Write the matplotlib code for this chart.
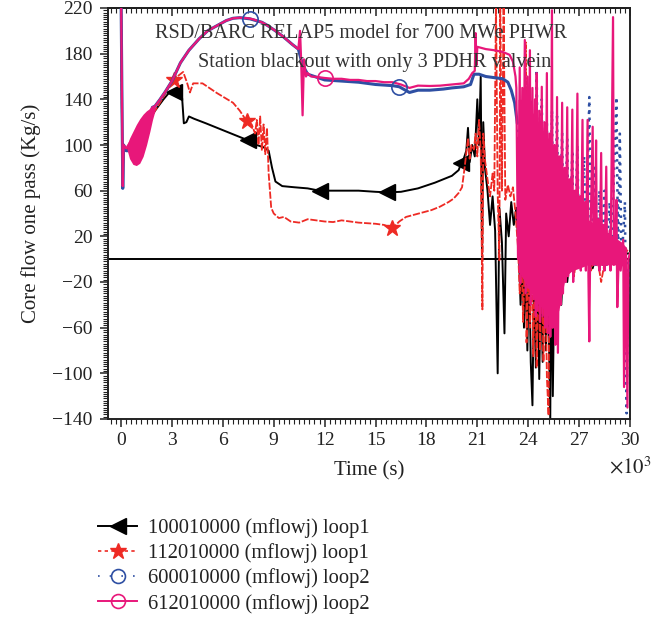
import numpy as np
import matplotlib
matplotlib.use("Agg")
import matplotlib.pyplot as plt
from matplotlib.lines import Line2D
from matplotlib.ticker import MultipleLocator

plt.rcParams['font.family'] = ['Liberation Serif', 'DejaVu Serif']
plt.rcParams['mathtext.fontset'] = 'stix'

# ---------------- data (time in 10^3 s, flow in kg/s) ----------------
t_black = [0.0, 0.08, 0.15, 0.3, 0.6, 1.0, 1.5, 2.0, 2.5, 2.9, 3.1, 3.3, 3.6, 3.7, 3.85, 4.0, 4.3, 5.0, 6.0, 7.0,
           7.5, 8.0, 8.4, 8.7, 8.9, 9.1, 9.5, 10.2, 11.0, 11.7, 12.5, 14.0, 15.0, 15.7, 16.5, 17.5, 18.5, 19.5, 19.9, 20.05,
           20.2, 20.35, 20.45, 20.55, 20.7, 20.85, 21.0, 21.1, 21.2, 21.28, 21.35, 21.45, 21.6, 21.75, 21.9, 22.05, 22.2, 22.3, 22.45, 22.6,
           22.7, 22.85, 23.0, 23.15, 23.3, 23.45, 23.55, 23.65, 23.75, 23.85, 23.95, 24.05, 24.15, 24.25, 24.35, 24.45, 24.55, 24.65, 24.75, 24.85,
           24.95, 25.05, 25.15, 25.3, 25.35, 25.45, 25.55, 25.65, 25.8, 25.95, 26.1, 26.3, 26.5, 26.7, 26.9, 27.2, 27.5, 27.8, 28.1, 28.4,
           28.7, 29.0, 29.3, 29.6, 29.8, 30.0]
y_black = [225, 63, 100, 95, 100, 105, 118, 130, 140, 147, 146, 143, 141, 119, 120, 125, 123, 119, 113, 107,
           104, 100, 98, 95, 80, 68, 64, 63, 62, 60, 60, 60, 59, 58.5, 59, 62, 67, 73, 78, 84,
           88, 95, 115, 85, 100, 90, 140, 100, 160, 2, 120, 80, 60, 30, 55, 25, -100, 45, 15, -65,
           40, 20, 50, 30, 45, 5, -40, 0, -60, -5, -80, 0, -90, -128, -5, -95, 0, -105, -10, -90,
           0, -80, -5, -140, 0, -120, -5, -70, 0, -40, 5, -20, 8, -10, 10, -5, 12, -8, 8, -5,
           10, 0, 15, -5, 5, 5]
mark_black = [3.1, 7.5, 11.7, 15.7, 20.05]

t_red = [0.0, 0.08, 0.15, 0.3, 0.6, 1.0, 1.5, 2.0, 2.5, 2.8, 3.1, 3.4, 3.66, 3.88, 4.06, 4.25, 4.8, 5.65, 6.6, 7.0,
         7.4, 7.7, 7.9, 8.0, 8.1, 8.2, 8.3, 8.4, 8.5, 8.6, 8.7, 8.85, 9.0, 9.3, 9.6, 10.0, 10.5, 11.0, 11.5, 12.0,
         12.5, 13.0, 13.5, 14.0, 14.5, 15.0, 15.5, 16.0, 16.4, 16.8, 17.3, 17.8, 18.3, 18.8, 19.3, 19.6, 19.9, 20.1, 20.25, 20.35,
         20.45, 20.55, 20.65, 20.8, 20.9, 21.0, 21.1, 21.2, 21.3, 21.35, 21.45, 21.6, 21.75, 21.9, 22.0, 22.1, 22.2, 22.3, 22.35, 22.45,
         22.55, 22.65, 22.8, 22.95, 23.1, 23.25, 23.4, 23.5, 23.6, 23.7, 23.8, 23.85, 23.9, 24.0, 24.1, 24.2, 24.3, 24.4, 24.5, 24.6,
         24.7, 24.8, 24.9, 25.0, 25.1, 25.2, 25.25, 25.4, 25.5, 25.6, 25.75, 25.9, 26.1, 26.3, 26.5, 26.7, 26.9, 27.1, 27.4, 27.7,
         28.0, 28.3, 28.6, 28.9, 29.2, 29.5, 29.8, 30.0]
y_red = [225, 63, 100, 95, 100, 105, 118, 130, 142, 150, 157, 161, 164, 155, 146, 154, 154, 145.5, 137, 130,
         121, 118, 110, 122, 100, 125, 95, 118, 92, 115, 75, 45, 40, 36, 37, 33, 32, 35, 34, 33,
         32.5, 34, 33, 32, 31.5, 31, 30, 27, 33, 37, 39, 41, 43, 46, 50, 53, 58, 63, 80, 93,
         106, 88, 100, 96, 110, 90, 122, 95, -44, 110, 87, 70, 55, 75, 60, 225, 58, -1, 225, 60,
         225, 52, 65, 55, 63, 40, 10, -30, 5, -55, 0, 190, -73, 5, -60, 0, -85, 5, -95, 0,
         -80, 10, -90, 5, -103, -137, 10, -60, 20, -30, 15, -20, 30, -10, 20, -15, 10, -5, 15, -10,
         8, -20, 5, -5, 10, 5, 8, 5]
mark_red = [3.1, 7.4, 16.0]

t_blue = [0.0, 0.1, 0.15, 0.3, 0.8, 1.5, 1.85, 2.0, 2.3, 2.6, 3.0, 3.5, 4.0, 4.6, 5.1, 5.65, 6.2, 6.6, 7.0, 7.6,
          8.3, 8.6, 9.1, 9.55, 10.1, 10.45, 10.7, 11.0, 12.0, 13.0, 14.0, 15.0, 16.0, 16.4, 17.0, 17.5, 18.2, 19.0, 19.5, 20.2,
          20.6, 20.8, 21.1, 21.5, 22.0, 22.5, 22.8, 23.0, 23.2, 23.35,
          23.5, 23.6, 23.7, 23.9, 24.0, 24.2, 24.3, 24.5, 24.6, 24.8, 24.9, 25.1, 25.2, 25.4, 25.5, 25.7, 25.8, 26.0, 26.1, 26.3,
          26.4, 26.6, 26.7, 26.9, 27.0, 27.3, 27.4, 27.6, 27.7, 27.9, 28.0, 28.2, 28.3, 28.5, 28.6, 28.8, 28.9, 29.2, 29.3, 29.4,
          29.5, 29.7, 29.8, 29.9, 30.0]
y_blue = [230, 62, 100, 95, 95, 115, 133, 134, 140, 146.5, 156, 172, 183, 193, 200, 204.5, 209, 211, 211.5, 210.5,
          207.5, 205, 200, 195, 188, 184, 170, 162, 157, 156, 155, 153, 152, 151, 146, 148, 148, 149, 150, 151,
          153, 162, 162, 160, 159, 158, 155, 148, 137, 120,
          10, 100, -10, 110, 0, 140, -5, 166, 0, 140, -10, 120, 0, 130, -5, 125, 0, 110, -5, 105,
          0, 95, -10, 100, 0, 90, -5, 142, 0, 80, -5, 60, 0, 60, -5, 50, 0, 142, 0, 110,
          -5, 50, -135, 0, 3]
mark_blue = [7.6, 16.4]

t_pink = [0.0, 0.1, 0.15, 0.3, 1.85, 2.0, 2.3, 2.6, 3.0, 3.5, 4.0, 4.6, 5.1, 5.65, 6.2, 6.6, 7.0, 7.5, 7.8, 8.3,
          8.6, 9.1, 9.55, 10.1, 10.45, 10.55, 10.62, 10.7, 10.78, 10.9, 11.0, 11.2, 11.6, 12.0, 12.5, 13.0, 13.5, 14.0, 14.5, 15.0,
          15.5, 16.0, 16.5, 17.0, 17.5, 18.2, 18.8, 19.5, 20.2, 20.5, 20.7, 20.85, 20.9, 20.95, 21.0, 21.5, 22.0, 22.5, 22.9, 23.1,
          23.25, 23.3, 23.4, 23.5, 23.55, 23.65, 23.7, 23.8, 23.85, 23.95, 24.0, 24.1, 24.15, 24.25, 24.3, 24.4, 24.45, 24.5, 24.55, 24.65,
          24.7, 24.8, 24.85, 24.95, 25.0, 25.1, 25.15, 25.25, 25.3, 25.4, 25.45, 25.55, 25.6, 25.7, 25.75, 25.85, 25.9, 26.0, 26.05, 26.15,
          26.2, 26.3, 26.35, 26.45, 26.5, 26.6, 26.65, 26.75, 26.8, 26.9, 26.95, 27.05, 27.1, 27.2, 27.25, 27.35, 27.4, 27.5, 27.55, 27.6,
          27.65, 27.8, 27.85, 27.95, 28.0, 28.05, 28.15, 28.2, 28.3, 28.35, 28.45, 28.5, 28.6, 28.65, 28.8, 28.85, 29.0, 29.05, 29.15, 29.2,
          29.25, 29.35, 29.45, 29.6, 29.65, 29.75, 29.85, 29.9, 30.0]
y_pink = [230, 64, 100, 97, 133, 134, 140, 146.5, 156, 172, 183, 193, 200, 204.5, 209, 211, 211.5, 211, 210, 207.5,
          205, 200, 195, 188, 184, 200, 172, 126, 175, 160, 163, 160, 159.5, 158.7, 158, 158, 157, 157, 156, 156,
          155, 155, 153, 150, 152, 151.7, 152, 153, 154, 158, 163, 165, 198, 170, 186, 184, 183, 181.5, 179, 173,
          160, 150, 0, 168, -21, 150, -10, 192, -30, 160, -25, 183, -40, 150, -35, 140, -50, 163, -45, 130,
          -55, 151, -50, 120, -60, 163, -65, 110, -68, 218, -60, 100, -75, 142, -82, 90, -40, 137, -30, 80,
          -20, 133, -15, 70, -10, 131, -20, 60, -8, 145, -5, 55, -10, 122, -5, 50, -10, 122, -15, -72,
          5, 116, -5, 40, 104, -5, 35, -10, 93, -5, 30, -10, 81, -5, 25, -10, 212, -5, 20, 52,
          -42, 10, -10, 17, -112, 5, -130, 0, 5]
mark_pink = [12.0]

# dense band of the pink trace (unresolved fast oscillation)
band_t = [0.35, 0.5, 0.7, 0.9, 1.1, 1.3, 1.5, 1.7, 1.85, 2.0]
band_lo = [96, 88, 83, 82, 84, 90, 100, 112, 122, 130]
band_hi = [100, 106, 112, 118, 123, 127, 130, 132, 133, 134]
dense_t = [23.4, 23.8, 24.2, 24.6, 25.0, 25.4, 25.8, 26.2, 26.6, 27.0, 27.5, 28.0, 28.5, 29.0, 29.5, 29.8]
dense_lo = [-10, -20, -30, -40, -45, -55, -45, -15, -10, -8, -5, -5, -5, -5, -5, -10]
dense_hi = [140, 140, 130, 120, 110, 100, 90, 70, 55, 45, 35, 30, 25, 20, 15, 10]

labels = ['100010000 (mflowj) loop1', '112010000 (mflowj) loop1',
          '600010000 (mflowj) loop2', '612010000 (mflowj) loop2']
title1 = 'RSD/BARC RELAP5 model for 700 MWe PHWR'
title2 = 'Station blackout with only 3 PDHR valvein'

# ---------------- styling ----------------
C_BLACK = '#000000'
C_RED = '#ee2a24'
C_BLUE = '#2e4fa3'
C_PINK = '#e8177a'
TXT = '#222222'

fig = plt.figure(figsize=(6.65, 6.23), dpi=100)
ax = fig.add_axes([108/665, 1-419/623, 522/665, 411/623])

def idx(ts, marks):
    return [int(np.argmin(np.abs(np.array(ts) - m))) for m in marks]

ax.axhline(0, color='black', lw=1.4, zorder=1)

ax.plot(t_black, y_black, color=C_BLACK, lw=1.4, marker='<', ms=11,
        markevery=idx(t_black, mark_black), zorder=2)
ax.plot(t_red, y_red, color=C_RED, lw=1.3, ls=(0, (4, 1)), marker='*', ms=12,
        markevery=idx(t_red, mark_red), zorder=3)

tb = np.array(t_blue); yb = np.array(y_blue)
k = int(np.searchsorted(tb, 23.4))
ax.plot(tb[:k], yb[:k], color=C_BLUE, lw=2.2, zorder=4)
ax.plot(tb[k-1:], yb[k-1:], color=C_BLUE, lw=1.8, ls=(0, (1, 2)), zorder=4)
mb = idx(t_blue, mark_blue)
ax.plot(tb[mb], yb[mb], ls='none', marker='o', ms=11, mfc='none', mec=C_BLUE, mew=1.2, zorder=6)

ax.fill_between(band_t, band_lo, band_hi, color=C_PINK, lw=0, zorder=5)
ax.fill_between(dense_t, dense_lo, dense_hi, color=C_PINK, lw=0, zorder=5)
ax.plot(t_pink, y_pink, color=C_PINK, lw=1.6, zorder=5)
tp = np.array(t_pink); yp = np.array(y_pink)
mp = idx(t_pink, mark_pink)
ax.plot(tp[mp], yp[mp], ls='none', marker='o', ms=11, mfc='none', mec=C_PINK, mew=1.2, zorder=6)

ax.set_xlim(-0.77, 30)
ax.set_ylim(-140, 220)
ax.xaxis.set_major_locator(MultipleLocator(3))
ax.xaxis.set_minor_locator(MultipleLocator(0.3))
ax.yaxis.set_minor_locator(MultipleLocator(2))
ax.set_yticks(np.arange(-140, 221, 40))
ax.tick_params(axis='both', which='major', labelsize=14, direction='out', length=6, width=1.1, colors=TXT)
ax.tick_params(axis='y', which='major', pad=5)
ax.tick_params(axis='both', which='minor', direction='out', length=3.5, width=0.8, colors=TXT)
ax.tick_params(axis='x', which='both', top=False)
for s in ax.spines.values():
    s.set_linewidth(1.4)
    s.set_color(TXT)

# top ticks inward
sec = ax.secondary_xaxis('top')
sec.xaxis.set_major_locator(MultipleLocator(3))
sec.xaxis.set_minor_locator(MultipleLocator(0.3))
sec.tick_params(which='major', direction='in', length=6, width=1.1, labeltop=False, colors=TXT)
sec.tick_params(which='minor', direction='in', length=3.5, width=0.8, colors=TXT)
sec.spines['top'].set_linewidth(1.4)

ax.set_xlabel('Time (s)', fontsize=15, color=TXT, labelpad=9)
ax.set_ylabel('Core flow one pass (Kg/s)', fontsize=15, color=TXT, labelpad=8)
ax.text(1.0, -0.118, r'$\times10^3$', transform=ax.transAxes, ha='center', va='center',
        fontsize=15, color=TXT)

ax.text(0.4856, 0.939, title1, transform=ax.transAxes, ha='center', va='center',
        fontsize=14.6, color='#333333', zorder=7)
ax.text(0.511, 0.868, title2, transform=ax.transAxes, ha='center', va='center',
        fontsize=14.6, color='#333333', zorder=7)

handles = [
    Line2D([], [], color=C_BLACK, lw=1.4, marker='<', ms=11),
    Line2D([], [], color=C_RED, lw=1.2, ls=(0, (2, 2)), marker='*', ms=12),
    Line2D([], [], color=C_BLUE, lw=1.2, ls=(0, (1, 6)), marker='o', ms=10, mfc='none', mew=1.2),
    Line2D([], [], color=C_PINK, lw=1.4, marker='o', ms=10, mfc='none', mew=1.2),
]
leg = fig.legend(handles, labels, loc='upper left', bbox_to_anchor=(98/665, 1-518/623),
                 frameon=False, fontsize=14.8, handlelength=1.9, labelspacing=0.26,
                 handletextpad=0.55, borderaxespad=0, borderpad=0)
for txt in leg.get_texts():
    txt.set_color(TXT)

fig.savefig('out.png', dpi=100)
